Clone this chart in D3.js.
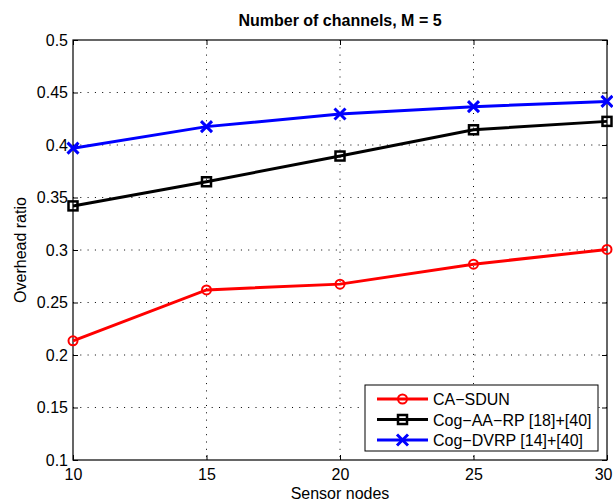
<!DOCTYPE html>
<html>
<head>
<meta charset="utf-8">
<script src="https://cdn.jsdelivr.net/npm/d3@7"></script>
<style>
  html, body { margin: 0; padding: 0; background: #fff; overflow: hidden; }
  svg { display: block; font-family: "Liberation Sans", Arial, sans-serif; }
</style>
</head>
<body>
<svg id="chart" width="613" height="502"></svg>
<script>
// Overhead ratio versus number of sensor nodes (M = 5 channels)
const sensorNodes = [10, 15, 20, 25, 30];
const caSdun   = [0.2135, 0.262, 0.2675, 0.2865, 0.3005];
const cogAaRp  = [0.342, 0.365, 0.3895, 0.4145, 0.4225];
const cogDvrp  = [0.397, 0.4175, 0.4295, 0.4365, 0.4415];
const xTicks = [10, 15, 20, 25, 30];
const yTicks = [0.1, 0.15, 0.2, 0.25, 0.3, 0.35, 0.4, 0.45, 0.5];

const series = [
  { name: "CA\u2212SDUN", values: caSdun, color: "#ff0000", marker: "circle" },
  { name: "Cog\u2212AA\u2212RP [18]+[40]", values: cogAaRp, color: "#000000", marker: "square" },
  { name: "Cog\u2212DVRP [14]+[40]", values: cogDvrp, color: "#0000ff", marker: "cross" }
];

const svg = d3.select("#chart");
const W = 613;
const m = { left: 73, right: 607, top: 40, bottom: 460 };
const x = d3.scaleLinear().domain([10, 30]).range([m.left, m.right]);
const y = d3.scaleLinear().domain([0.1, 0.5]).range([m.bottom, m.top]);
const FS = 16;

// dotted grid
const grid = svg.append("g");
grid.selectAll(".gx").data(xTicks.slice(1, -1)).join("line")
  .attr("x1", d => x(d)).attr("x2", d => x(d))
  .attr("y1", m.top).attr("y2", m.bottom)
  .attr("stroke", "#000").attr("stroke-width", 1).attr("stroke-dasharray", "1,6.3");
grid.selectAll(".gy").data(yTicks.slice(1, -1)).join("line")
  .attr("y1", d => y(d)).attr("y2", d => y(d))
  .attr("x1", m.left).attr("x2", m.right)
  .attr("stroke", "#000").attr("stroke-width", 1).attr("stroke-dasharray", "1,6.3");

// axes with inward ticks on all four sides
const fmtY = d => String(+d.toFixed(2));
const axes = [
  svg.append("g").attr("class", "xaxis").attr("transform", `translate(0,${m.bottom})`)
    .call(d3.axisBottom(x).tickValues(xTicks).tickSizeInner(-5).tickSizeOuter(0).tickPadding(8.5)),
  svg.append("g").attr("transform", `translate(0,${m.top})`)
    .call(d3.axisTop(x).tickValues(xTicks).tickSizeInner(-5).tickSizeOuter(0).tickFormat("")),
  svg.append("g").attr("transform", `translate(${m.left},0)`)
    .call(d3.axisLeft(y).tickValues(yTicks).tickFormat(fmtY).tickSizeInner(-5).tickSizeOuter(0).tickPadding(5)),
  svg.append("g").attr("transform", `translate(${m.right},0)`)
    .call(d3.axisRight(y).tickValues(yTicks).tickSizeInner(-5).tickSizeOuter(0).tickFormat(""))
];
axes.forEach(g => {
  g.select(".domain").remove();
  g.selectAll("line").attr("stroke", "#000").attr("stroke-width", 1);
  g.selectAll("text").attr("font-size", FS).attr("fill", "#000")
    .attr("font-family", "'Liberation Sans', Arial, sans-serif");
});
// keep the last x tick label inside the canvas
svg.select(".xaxis").selectAll(".tick text").filter(d => d === 30)
  .attr("text-anchor", "end").attr("x", W - 1 - m.right);

svg.append("rect")
  .attr("x", m.left).attr("y", m.top)
  .attr("width", m.right - m.left).attr("height", m.bottom - m.top)
  .attr("fill", "none").attr("stroke", "#000").attr("stroke-width", 1.2);

function drawMarker(g, type, color, cx, cy) {
  if (type === "circle") {
    g.append("circle").attr("cx", cx).attr("cy", cy).attr("r", 4.5)
      .attr("fill", "none").attr("stroke", color).attr("stroke-width", 2);
  } else if (type === "square") {
    g.append("rect").attr("x", cx - 4.5).attr("y", cy - 4.5).attr("width", 9).attr("height", 9)
      .attr("fill", "none").attr("stroke", color).attr("stroke-width", 2.5);
  } else {
    const s = 5.5;
    g.append("path")
      .attr("d", `M${cx - s},${cy - s}L${cx + s},${cy + s}M${cx - s},${cy + s}L${cx + s},${cy - s}`)
      .attr("stroke", color).attr("stroke-width", 3).attr("fill", "none");
  }
}

const line = d3.line().x((d, i) => x(sensorNodes[i])).y(d => y(d));
series.forEach(s => {
  const g = svg.append("g");
  g.append("path").datum(s.values).attr("d", line)
    .attr("fill", "none").attr("stroke", s.color).attr("stroke-width", 3);
  s.values.forEach((v, i) => drawMarker(g, s.marker, s.color, x(sensorNodes[i]), y(v)));
});

// legend
const lg = svg.append("g");
lg.append("rect").attr("x", 365).attr("y", 385).attr("width", 233).attr("height", 66)
  .attr("fill", "#fff").attr("stroke", "#000").attr("stroke-width", 1);
series.forEach((s, i) => {
  const ly = 399 + i * 20.5;
  lg.append("line").attr("x1", 377).attr("x2", 428).attr("y1", ly).attr("y2", ly)
    .attr("stroke", s.color).attr("stroke-width", 3);
  drawMarker(lg, s.marker, s.color, 402.5, ly);
  lg.append("text").attr("x", 433).attr("y", ly + 6).attr("font-size", FS).text(s.name);
});

// titles
svg.append("text").attr("x", 340).attr("y", 25.5).attr("text-anchor", "middle")
  .attr("font-size", FS).attr("font-weight", "bold").text("Number of channels, M = 5");
svg.append("text").attr("x", 340).attr("y", 499).attr("text-anchor", "middle")
  .attr("font-size", FS).text("Sensor nodes");
svg.append("text").attr("transform", "translate(26,250) rotate(-90)").attr("text-anchor", "middle")
  .attr("font-size", FS).text("Overhead ratio");
</script>
</body>
</html>
